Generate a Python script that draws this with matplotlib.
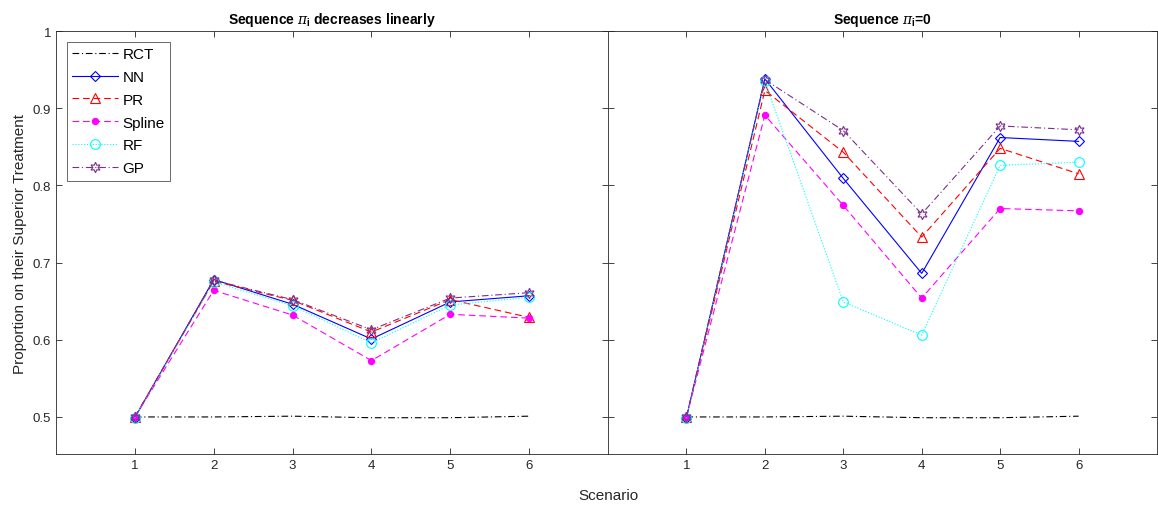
import matplotlib
matplotlib.use("Agg")
import matplotlib.pyplot as plt

plt.rcParams['font.family'] = ['Liberation Sans Narrow', 'Liberation Sans', 'DejaVu Sans']
plt.rcParams['mathtext.fontset'] = 'custom'
plt.rcParams['mathtext.rm'] = 'Liberation Sans'
plt.rcParams['mathtext.it'] = 'DejaVu Serif:italic'
plt.rcParams['mathtext.bf'] = 'Liberation Sans:bold'
plt.rcParams['lines.dashed_pattern'] = [6, 3.5]
plt.rcParams['lines.dashdot_pattern'] = [6, 2.5, 1, 2.5]
plt.rcParams['lines.dotted_pattern'] = [1, 1.6]

scenarios = [1, 2, 3, 4, 5, 6]
methods = ["RCT", "NN", "PR", "Spline", "RF", "GP"]

# left panel: sequence pi_i decreases linearly
left_rct = [0.500, 0.500, 0.501, 0.499, 0.499, 0.501]
left_nn = [0.499, 0.678, 0.646, 0.601, 0.649, 0.657]
left_pr = [0.500, 0.676, 0.651, 0.610, 0.652, 0.629]
left_spline = [0.500, 0.664, 0.632, 0.573, 0.633, 0.628]
left_rf = [0.499, 0.675, 0.644, 0.596, 0.645, 0.655]
left_gp = [0.500, 0.677, 0.652, 0.613, 0.654, 0.661]

# right panel: sequence pi_i = 0
right_rct = [0.500, 0.500, 0.501, 0.499, 0.499, 0.501]
right_nn = [0.499, 0.938, 0.809, 0.686, 0.862, 0.857]
right_pr = [0.500, 0.923, 0.843, 0.733, 0.848, 0.815]
right_spline = [0.500, 0.891, 0.774, 0.654, 0.770, 0.767]
right_rf = [0.499, 0.935, 0.649, 0.606, 0.826, 0.830]
right_gp = [0.500, 0.937, 0.871, 0.763, 0.877, 0.872]

yticks = [0.5, 0.6, 0.7, 0.8, 0.9, 1.0]
ytick_labels = ["0.5", "0.6", "0.7", "0.8", "0.9", "1"]

purple = (0.49, 0.18, 0.56)
styles = {
    "RCT": dict(color="black", linestyle="-.", marker=None),
    "NN": dict(color="blue", linestyle="-", marker="D", markersize=5, markerfacecolor="none"),
    "PR": dict(color="red", linestyle="--", marker="^", markersize=7, markerfacecolor="none"),
    "Spline": dict(color="magenta", linestyle="--", marker="o", markersize=4.5, markerfacecolor="magenta"),
    "RF": dict(color="cyan", linestyle=":", marker="o", markersize=7, markerfacecolor="none"),
    "GP": dict(color=purple, linestyle="-.", marker=(6, 1, 0), markersize=7.5, markerfacecolor="none"),
}

fig = plt.figure(figsize=(11.58, 5.06), dpi=100)
W, H = 1158, 506
ax1 = fig.add_axes([56 / W, 51 / H, 552 / W, 423 / H])
ax2 = fig.add_axes([608 / W, 51 / H, 549 / W, 423 / H])

left = [left_rct, left_nn, left_pr, left_spline, left_rf, left_gp]
right = [right_rct, right_nn, right_pr, right_spline, right_rf, right_gp]

for ax, data in [(ax1, left), (ax2, right)]:
    for name, vals in zip(methods, data):
        ax.plot(scenarios, vals, label=name, linewidth=0.8, markeredgewidth=0.8, **styles[name])
    ax.set_xlim(0, 7)
    ax.set_ylim(0.452, 1)
    ax.set_xticks(scenarios)
    ax.set_yticks(yticks)
    ax.tick_params(direction="in", top=True, right=True, length=4, width=0.6,
                   labelsize=9.5, colors=(0.15, 0.15, 0.15))
    for s in ax.spines.values():
        s.set_linewidth(0.6)
        s.set_color((0.15, 0.15, 0.15))

ax1.set_yticklabels(ytick_labels)
ax2.set_yticklabels([])

ax1.set_title(r"Sequence $\pi_\mathbf{i}$ decreases linearly", fontsize=10, fontweight="bold", pad=6)
ax2.set_title(r"Sequence $\pi_\mathbf{i}$=0", fontsize=10, fontweight="bold", pad=6)

ax1.set_ylabel("Proportion on their Superior Treatment", fontsize=11, color=(0.15, 0.15, 0.15))
fig.text(608 / W, 0.005, "Scenario", ha="center", va="bottom", fontsize=11, color=(0.15, 0.15, 0.15))

leg = ax1.legend(loc="upper left", fontsize=11, frameon=True, fancybox=False,
                 edgecolor=(0.15, 0.15, 0.15), borderpad=0.35, labelspacing=0.58,
                 handlelength=3.0, handletextpad=0.3, borderaxespad=0.7)
leg.get_frame().set_linewidth(0.6)

fig.savefig("out.png", dpi=100)
